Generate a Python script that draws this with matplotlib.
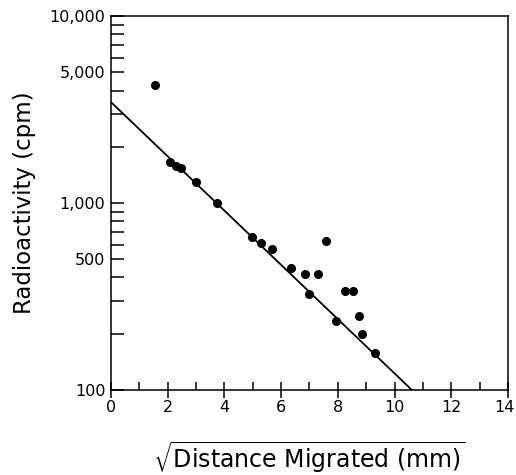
import numpy as np
import matplotlib.pyplot as plt
import matplotlib.transforms as mtransforms
from matplotlib.ticker import FixedLocator, FixedFormatter, NullFormatter

# data
sqrt_dist = [1.55, 2.08, 2.29, 2.47, 3.0, 3.74, 4.97, 5.29, 5.68, 6.35, 6.84,
             7.30, 6.98, 7.58, 8.25, 8.53, 7.93, 8.74, 8.85, 9.31]
counts = [4280, 1655, 1580, 1540, 1295, 1000, 658, 611, 567, 449, 417,
          417, 326, 627, 338, 338, 234, 249, 199, 158]

# fitted line end points
fit_x = [0.0, 10.61]
fit_y = [3470, 100]

x_ticks = [0, 2, 4, 6, 8, 10, 12, 14]
y_ticks = [100, 500, 1000, 5000, 10000]
y_labels = ['100', '500', '1,000', '5,000', '10,000']

plt.rcParams['font.family'] = ['DejaVu Sans']
plt.rcParams['mathtext.fontset'] = 'dejavusans'

fig = plt.figure(figsize=(5.16, 4.75), dpi=100)
ax = fig.add_axes([0.215, 0.179, 0.7695, 0.787])

ax.plot(fit_x, fit_y, color='black', lw=1.3)
ax.plot(sqrt_dist, counts, 'o', color='black', ms=5.5, clip_on=False)

ax.set_yscale('log')
ax.set_xlim(0, 14)
ax.set_ylim(100, 10000)

ax.set_xticks(x_ticks)
ax.set_xticks(range(1, 14, 2), minor=True)
ax.yaxis.set_major_locator(FixedLocator(y_ticks))
ax.yaxis.set_major_formatter(FixedFormatter(y_labels))
minor_y = [m * 10 ** e for e in (2, 3) for m in range(2, 10) if m != 5]
ax.yaxis.set_minor_locator(FixedLocator(minor_y))
ax.yaxis.set_minor_formatter(NullFormatter())

ax.tick_params(axis='x', which='major', direction='inout', length=12, width=1.1,
               labelsize=11.5, top=False, pad=1)
ax.tick_params(axis='x', which='minor', direction='in', length=6, width=1.1, top=False)
ax.tick_params(axis='y', which='both', direction='in', length=9, width=1.1,
               labelsize=11.5, right=False, pad=4)
for s in ax.spines.values():
    s.set_linewidth(1.1)

# nudge the last x label so it stays inside the figure
last = ax.get_xticklabels()[-1]
last.set_transform(last.get_transform() +
                   mtransforms.ScaledTranslation(-4 / 100, 0, fig.dpi_scale_trans))

ax.set_ylabel('Radioactivity (cpm)', fontsize=16.5, labelpad=10)
ax.set_xlabel(r'$\sqrt{\mathsf{Distance\ Migrated\ (mm)}}$', fontsize=17, labelpad=18)

fig.savefig('out.png', dpi=100)
